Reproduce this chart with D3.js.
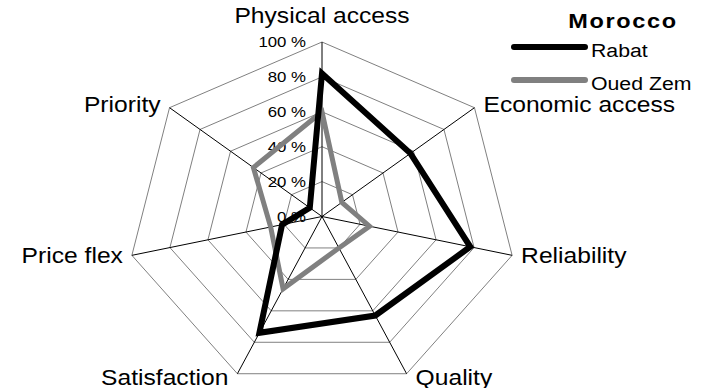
<!DOCTYPE html>
<html>
<head>
<meta charset="utf-8">
<script src="https://cdn.jsdelivr.net/npm/d3@7"></script>
<style>
  body { margin: 0; background: #fff; }
  svg text { font-family: "Liberation Sans", Arial, sans-serif; fill: #000; }
</style>
</head>
<body>
<div id="chart"></div>
<script>
// data (percent)
const axes = ["Physical access", "Economic access", "Reliability", "Quality", "Satisfaction", "Price flex", "Priority"];
const rabat = [82, 58, 78, 63, 74, 21, 8];
const ouedZem = [60, 13, 25, 20, 46, 27, 45];
const ticks = [0, 20, 40, 60, 80, 100];
const seriesNames = ["Rabat", "Oued Zem"];
const title = "Morocco";

const width = 710, height = 388;
const cx = 322, cy = 216.5;
const rx = 195, ry = 174.5;   // picture is stretched sideways
const sx = 1.12;              // same stretch for the text

const svg = d3.select("#chart").append("svg")
    .attr("width", width)
    .attr("height", height);

const r = d3.scaleLinear().domain([0, 100]).range([0, 1]);
const angle = d3.scaleLinear().domain([0, axes.length]).range([0, 2 * Math.PI]);

const pt = (i, v) => {
    const a = angle(i);
    return [cx + rx * r(v) * Math.sin(a), cy - ry * r(v) * Math.cos(a)];
};

// rings
const grid = svg.append("g");
ticks.filter(t => t > 0).forEach(t => {
    grid.append("polygon")
        .attr("points", axes.map((d, i) => pt(i, t).join(",")).join(" "))
        .attr("fill", "none")
        .attr("stroke", "#808080")
        .attr("stroke-width", 1);
});

// spokes
grid.selectAll("line")
    .data(axes)
    .enter().append("line")
    .attr("x1", cx).attr("y1", cy)
    .attr("x2", (d, i) => pt(i, 100)[0])
    .attr("y2", (d, i) => pt(i, 100)[1])
    .attr("stroke", "#000")
    .attr("stroke-width", 1);

// tick labels
svg.append("g").selectAll("text")
    .data(ticks)
    .enter().append("text")
    .attr("transform", d => `translate(${cx - 16},${pt(0, d)[1] + 5}) scale(${sx},1)`)
    .attr("text-anchor", "end")
    .style("font-size", "15px")
    .text(d => d + " %");

// axis labels
svg.append("g").selectAll("text")
    .data(axes)
    .enter().append("text")
    .attr("transform", (d, i) => {
        const [x, y] = pt(i, 100);
        const a = angle(i);
        if (i === 0) return `translate(${x},${y - 19}) scale(${sx},1)`;
        const dx = Math.sin(a) > 0 ? 9 : -9;
        return `translate(${x + dx},${y + 7 - 4.5 * Math.cos(a)}) scale(${sx},1)`;
    })
    .attr("text-anchor", (d, i) => {
        const s = Math.sin(angle(i));
        return Math.abs(s) < 0.1 ? "middle" : (s > 0 ? "start" : "end");
    })
    .style("font-size", "22px")
    .text(d => d);

// series
const line = d3.line().curve(d3.curveLinearClosed);
const series = [
    {name: seriesNames[1], values: ouedZem, color: "#808080", w: 5},
    {name: seriesNames[0], values: rabat, color: "#000000", w: 6}
];
svg.append("g").selectAll("path")
    .data(series)
    .enter().append("path")
    .attr("d", s => line(s.values.map((v, i) => pt(i, v))))
    .attr("fill", "none")
    .attr("stroke", s => s.color)
    .attr("stroke-width", s => s.w)
    .attr("stroke-linejoin", "miter");

// legend
const legend = svg.append("g");
legend.append("text")
    .attr("transform", `translate(623,28) scale(${sx},1)`)
    .attr("text-anchor", "middle")
    .style("font-size", "21px")
    .style("font-weight", "bold")
    .style("letter-spacing", "1.5px")
    .text(title);

const legendItems = [
    {name: seriesNames[0], color: "#000000", y: 47},
    {name: seriesNames[1], color: "#808080", y: 80}
];
legendItems.forEach(d => {
    legend.append("line")
        .attr("x1", 514).attr("x2", 585)
        .attr("y1", d.y).attr("y2", d.y)
        .attr("stroke", d.color)
        .attr("stroke-width", 6)
        .attr("stroke-linecap", "round");
    legend.append("text")
        .attr("transform", `translate(591,${d.y + 10}) scale(${sx},1)`)
        .style("font-size", "19px")
        .text(d.name);
});
</script>
</body>
</html>
